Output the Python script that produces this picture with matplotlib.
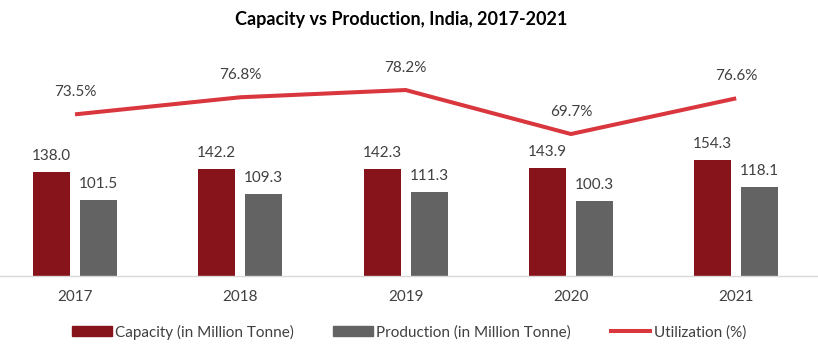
import matplotlib
matplotlib.use("Agg")
import matplotlib.pyplot as plt
from matplotlib.patches import Patch
from matplotlib.lines import Line2D
import numpy as np

plt.rcParams['font.family'] = ['Lato', 'DejaVu Sans']

years = ['2017', '2018', '2019', '2020', '2021']
capacity = [138.0, 142.2, 142.3, 143.9, 154.3]
production = [101.5, 109.3, 111.3, 100.3, 118.1]
utilization = [73.5, 76.8, 78.2, 69.7, 76.6]

cap_color = '#86141A'
prod_color = '#636363'
util_color = '#D9363E'
text_color = '#404040'

W, H = 818, 354
fig = plt.figure(figsize=(W / 100, H / 100), dpi=100)

# plot area: baseline at y=276px, top at y=40px
ax = fig.add_axes([0, (H - 276) / H, 1, 236 / H])
ax2 = ax.twinx()

x = np.arange(len(years))
bw = 0.224
off = 0.142

b1 = ax.bar(x - off, capacity, bw, color=cap_color)
b2 = ax.bar(x + off, production, bw, color=prod_color)

for bars, vals in ((b1, capacity), (b2, production)):
    for rect, v in zip(bars, vals):
        ax.annotate(f'{v:.1f}', (rect.get_x() + rect.get_width() / 2, v),
                    xytext=(0, 11.5), textcoords='offset points',
                    ha='center', va='center', fontsize=11, color=text_color)

ax2.plot(x, utilization, color=util_color, lw=2.9, solid_capstyle='butt')
for xi, v in zip(x, utilization):
    ax2.annotate(f'{v:.1f}%', (xi, v), xytext=(0, 16), textcoords='offset points',
                 ha='center', va='center', fontsize=11, color=text_color)

ax.set_xlim(-75 / 165.3, (W - 75) / 165.3)
ax.set_ylim(0, 236 / 0.7518)
ax2.set_ylim(42.27, 42.27 + 236 / 5.176)

for a in (ax, ax2):
    for s in ('top', 'right', 'left'):
        a.spines[s].set_visible(False)
    a.set_yticks([])
ax2.spines['bottom'].set_visible(False)
ax.spines['bottom'].set_color('#D9D9D9')
ax.spines['bottom'].set_linewidth(1)
ax.set_xticks(x)
ax.set_xticklabels(years, fontsize=11, color=text_color)
ax.tick_params(axis='x', length=0, pad=10)

fig.text(0.49, 1 - 20 / H, 'Capacity vs Production, India, 2017-2021',
         ha='center', va='center', fontsize=13, fontweight='bold', color='black')

handles = [Patch(color=cap_color), Patch(color=prod_color),
           Line2D([0], [0], color=util_color, lw=2.9)]
labels = ['Capacity (in Million Tonne)', 'Production (in Million Tonne)', 'Utilization (%)']
fig.legend(handles, labels, loc='center', bbox_to_anchor=(0.5, 1 - 332 / H), ncol=3,
           frameon=False, fontsize=11, labelcolor=text_color, handlelength=2.6,
           handleheight=0.65, handletextpad=0.2, columnspacing=2.6)

fig.savefig('out.png', dpi=100)
